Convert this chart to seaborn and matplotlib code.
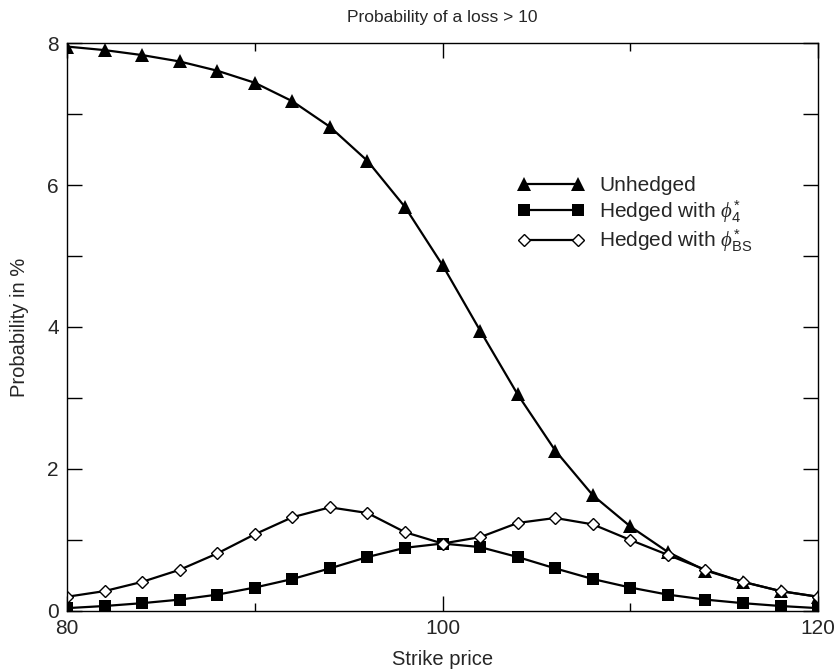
import numpy as np
import pandas as pd
import matplotlib
matplotlib.use("Agg")
import matplotlib.pyplot as plt
import seaborn as sns

strike = [80, 82, 84, 86, 88, 90, 92, 94, 96, 98, 100,
          102, 104, 106, 108, 110, 112, 114, 116, 118, 120]

unhedged = [7.95, 7.90, 7.83, 7.74, 7.61, 7.44, 7.18, 6.82, 6.34, 5.69, 4.87,
            3.95, 3.05, 2.26, 1.63, 1.19, 0.83, 0.57, 0.41, 0.28, 0.20]

hedged_phi4 = [0.04, 0.07, 0.11, 0.16, 0.23, 0.33, 0.45, 0.60, 0.76, 0.89, 0.95,
               0.90, 0.76, 0.60, 0.45, 0.33, 0.23, 0.16, 0.11, 0.07, 0.04]

hedged_bs = [0.20, 0.28, 0.41, 0.58, 0.81, 1.08, 1.32, 1.46, 1.38, 1.11, 0.95,
             1.04, 1.24, 1.31, 1.22, 1.00, 0.79, 0.58, 0.41, 0.28, 0.20]

labels = ["Unhedged",
          r"Hedged with $\phi_4^{*}$",
          r"Hedged with $\phi_{\mathrm{BS}}^{*}$"]

sns.set_style("ticks")
plt.rcParams["font.family"] = ["Liberation Sans", "DejaVu Sans"]
plt.rcParams["mathtext.fontset"] = "custom"
plt.rcParams["mathtext.rm"] = "Liberation Sans"
plt.rcParams["mathtext.it"] = "Liberation Serif:italic"

fig = plt.figure(figsize=(8.34, 6.72), dpi=100)
ax = fig.add_axes([0.0803, 0.0908, 0.9007, 0.8452])

df = pd.DataFrame({"strike": strike, "unhedged": unhedged,
                   "phi4": hedged_phi4, "bs": hedged_bs})

sns.lineplot(data=df, x="strike", y="unhedged", ax=ax, color="black",
             linewidth=1.6, marker="^", markersize=10, markeredgewidth=0,
             markerfacecolor="black", label=labels[0])
sns.lineplot(data=df, x="strike", y="phi4", ax=ax, color="black",
             linewidth=1.6, marker="s", markersize=8.5, markeredgewidth=0,
             markerfacecolor="black", label=labels[1])
sns.lineplot(data=df, x="strike", y="bs", ax=ax, color="black",
             linewidth=1.6, marker="D", markersize=6.5, markeredgewidth=1.0,
             markerfacecolor="white", markeredgecolor="black", label=labels[2])

ax.set_xlim(80, 120)
ax.set_ylim(0, 8)
ax.set_xticks([80, 100, 120])
ax.set_xticks([90, 110], minor=True)
ax.set_yticks([0, 2, 4, 6, 8])
ax.set_yticks([1, 3, 5, 7], minor=True)

ax.tick_params(axis="both", which="both", direction="in", top=True,
               right=True, labelsize=15, color="black", width=1.0, pad=6)
ax.tick_params(axis="x", which="major", length=11)
ax.tick_params(axis="x", which="minor", length=6)
ax.tick_params(axis="y", which="both", length=11)

for sp in ax.spines.values():
    sp.set_linewidth(1.0)
    sp.set_color("black")

ax.set_xlabel("Strike price", fontsize=14.5, labelpad=8.5)
ax.set_ylabel("Probability in %", fontsize=14.5, labelpad=13)
ax.set_title("Probability of a loss > 10", fontsize=12.5, pad=15)

ax.legend(loc="upper left", bbox_to_anchor=(0.6, 0.766), frameon=False,
          fontsize=15, numpoints=2, handlelength=3.2, handletextpad=0.7,
          labelspacing=0.15, borderpad=0, borderaxespad=0)

fig.savefig("out.png", dpi=100)
